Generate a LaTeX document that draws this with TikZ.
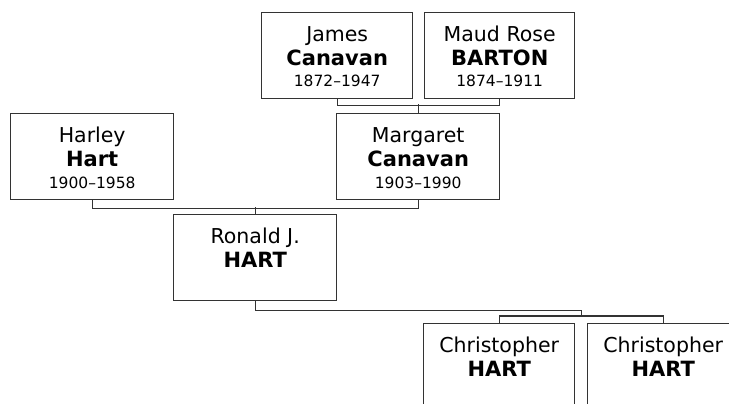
\documentclass[tikz,border=0pt]{standalone}
\usepackage{fontspec}
\setmainfont{DejaVu Sans}
\usetikzlibrary{calc}
\begin{document}
\begin{tikzpicture}[x=1pt,y=-1pt,
  box/.style={draw=black!80,line width=1.4pt,fill=white,anchor=north west,inner sep=0pt,
    minimum height=86pt},
  nm/.style={anchor=base,inner sep=0pt,font=\fontsize{20.5}{24}\selectfont},
  bnm/.style={anchor=base,inner sep=0pt,font=\fontsize{21}{24}\selectfont\bfseries},
  yr/.style={anchor=base,inner sep=0pt,font=\fontsize{15.5}{18}\selectfont},
  link/.style={draw=black!80,line width=1.4pt}]
\useasboundingbox (0,0) rectangle (729,404);
\clip (0,0) rectangle (729,404);
% boxes
\node[box,minimum width=151pt] (james) at (261,12) {};
\node[box,minimum width=150pt] (maud) at (424,12) {};
\node[box,minimum width=163pt] (harley) at (10,113) {};
\node[box,minimum width=163pt] (marg) at (336,113) {};
\node[box,minimum width=163pt] (ronald) at (173,214) {};
\node[box,minimum width=151pt] (chris1) at (423,323) {};
\node[box,minimum width=151pt] (chris2) at (587,323) {};
% texts
\node[nm] (t1a) at ([yshift=-29.5pt]james.north) {James};
\node[bnm] (t1b) at ([yshift=-53.5pt]james.north) {Canavan};
\node[yr] (t1c) at ([yshift=-75pt]james.north) {1872–1947};
\node[nm] (t2a) at ([yshift=-29.5pt]maud.north) {Maud Rose};
\node[bnm] (t2b) at ([yshift=-53.5pt]maud.north) {BARTON};
\node[yr] (t2c) at ([yshift=-75pt]maud.north) {1874–1911};
\node[nm] (t3a) at ([yshift=-29.5pt]harley.north) {Harley};
\node[bnm] (t3b) at ([yshift=-53.5pt]harley.north) {Hart};
\node[yr] (t3c) at ([yshift=-75pt]harley.north) {1900–1958};
\node[nm] (t4a) at ([yshift=-29.5pt]marg.north) {Margaret};
\node[bnm] (t4b) at ([yshift=-53.5pt]marg.north) {Canavan};
\node[yr] (t4c) at ([yshift=-75pt]marg.north) {1903–1990};
\node[nm] (t5a) at ([yshift=-29.5pt]ronald.north) {Ronald J.};
\node[bnm] (t5b) at ([yshift=-53.5pt]ronald.north) {HART};
\node[nm] (t6a) at ([yshift=-29.5pt]chris1.north) {Christopher};
\node[bnm] (t6b) at ([yshift=-53.5pt]chris1.north) {HART};
\node[nm] (t7a) at ([yshift=-29.5pt]chris2.north) {Christopher};
\node[bnm] (t7b) at ([yshift=-53.5pt]chris2.north) {HART};
% connectors
\draw[link] (james.south) -- ++(0,6) -| (maud.south);
\draw[link] (marg.north) -- (marg.north |- 0,104);
\draw[link] (harley.south) -- ++(0,8) -| (marg.south);
\draw[link] (ronald.north) -- (ronald.north |- 0,207);
\coordinate (cbus) at ($(chris1.north)!0.5!(chris2.north)$);
\draw[link] (ronald.south) -- ++(0,9) -| ($(cbus)+(0,-7)$);
\draw[link] (chris1.north) -- ++(0,-7) -| (chris2.north);
\end{tikzpicture}
\end{document}
